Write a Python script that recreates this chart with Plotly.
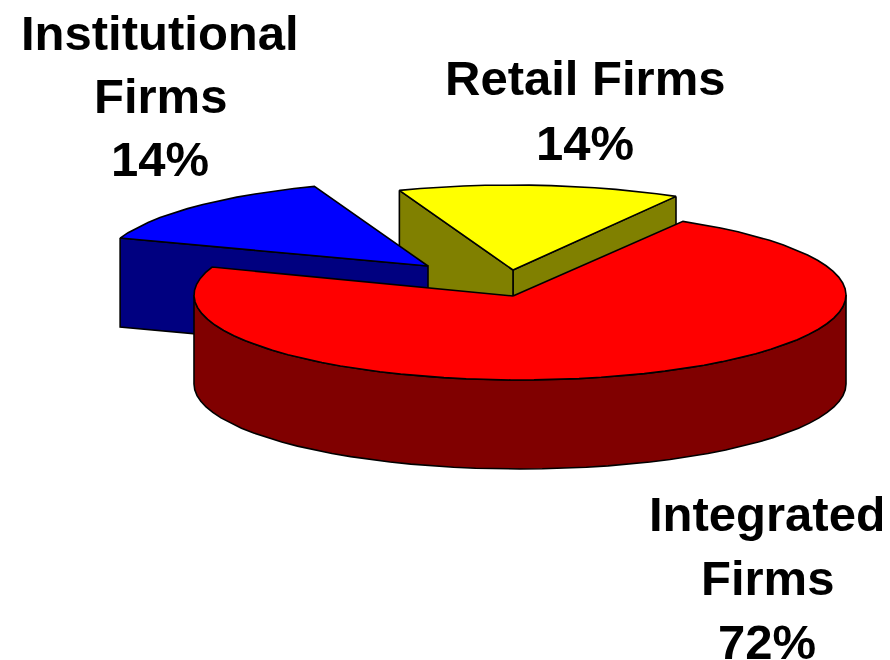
import math
import plotly.graph_objects as go

categories = ["Retail Firms", "Institutional Firms", "Integrated Firms"]
shares = [14, 14, 72]
label_lines = [["Retail Firms", "14%"], ["Institutional", "Firms", "14%"], ["Integrated", "Firms", "72%"]]
top_colors = ["#ffff00", "#0000ff", "#ff0000"]
wall_colors = ["#808000", "#000080", "#800000"]

START_DEG = 60
RX, RY, DEPTH = 326, 85, 89
apexes = [(513, 270), (428, 266), (513, 296)]
CENTER_RED = (520, 295)
label_pos = [(585, 78, 65), (160, 33, 63), (767, 514, 64)]
FONT = dict(family="Liberation Sans, Arial, sans-serif", size=49, color="black")
PAGE_MARGIN = 8

spans = []
a = START_DEG
for s in shares:
    spans.append((a, a + s / sum(shares) * 360))
    a = spans[-1][1]


def arc(cx, cy, a0, a1, dy=0, step=4.0):
    n = max(2, int(abs(a1 - a0) / step) + 1)
    xs, ys = [], []
    for i in range(n + 1):
        t = math.radians(a0 + (a1 - a0) * i / n)
        xs.append(cx + RX * math.cos(t))
        ys.append(cy - RY * math.sin(t) + dy)
    return xs, ys


fig = go.Figure()


def poly(xs, ys, color, name):
    fig.add_trace(go.Scatter(x=xs + xs[:1], y=ys + ys[:1], mode="lines", fill="toself", fillcolor=color,
                             line=dict(color="black", width=1.6), name=name, hoverinfo="name", showlegend=False))


def wedge_top(i, ellipse_center):
    cx, cy = ellipse_center
    ax, ay = apexes[i]
    xs, ys = arc(cx, cy, *spans[i])
    poly([ax] + xs, [ay] + ys, top_colors[i], categories[i])


def flat_wall(i, ax, ay, px, py):
    poly([px, ax, ax, px], [py, ay, ay + DEPTH, py + DEPTH], wall_colors[i], categories[i])


# Retail wedge (exploded)
ax, ay = apexes[0]
xs, ys = arc(ax, ay, *spans[0])
flat_wall(0, ax, ay, xs[0], ys[0])
flat_wall(0, ax, ay, xs[-1], ys[-1])
wedge_top(0, (ax, ay))

# Institutional wedge (exploded)
ax, ay = apexes[1]
xs, ys = arc(ax, ay, *spans[1])
flat_wall(1, ax, ay, xs[-1], ys[-1])
wedge_top(1, (ax, ay))

# Integrated wedge: front wall then top
cx, cy = CENTER_RED
xs, ys = arc(cx, cy, 180, 360)
xb, yb = arc(cx, cy, 360, 180, dy=DEPTH)
poly(xs + xb, ys + yb, wall_colors[2], categories[2])
wedge_top(2, CENTER_RED)

for (x, y, gap), lines in zip(label_pos, label_lines):
    for k, line in enumerate(lines):
        fig.add_annotation(x=x, y=y + k * gap, text=f"<b>{line}</b>", showarrow=False, font=FONT,
                           xanchor="center", yanchor="middle")

fig.update_xaxes(range=[PAGE_MARGIN, 890], visible=False, fixedrange=True)
fig.update_yaxes(range=[660, PAGE_MARGIN], visible=False, fixedrange=True)
fig.update_layout(width=890 - PAGE_MARGIN, height=660 - PAGE_MARGIN, margin=dict(l=0, r=0, t=0, b=0),
                  plot_bgcolor="white", paper_bgcolor="white", showlegend=False)
fig.write_html("out.html", config=dict(displayModeBar=False))
